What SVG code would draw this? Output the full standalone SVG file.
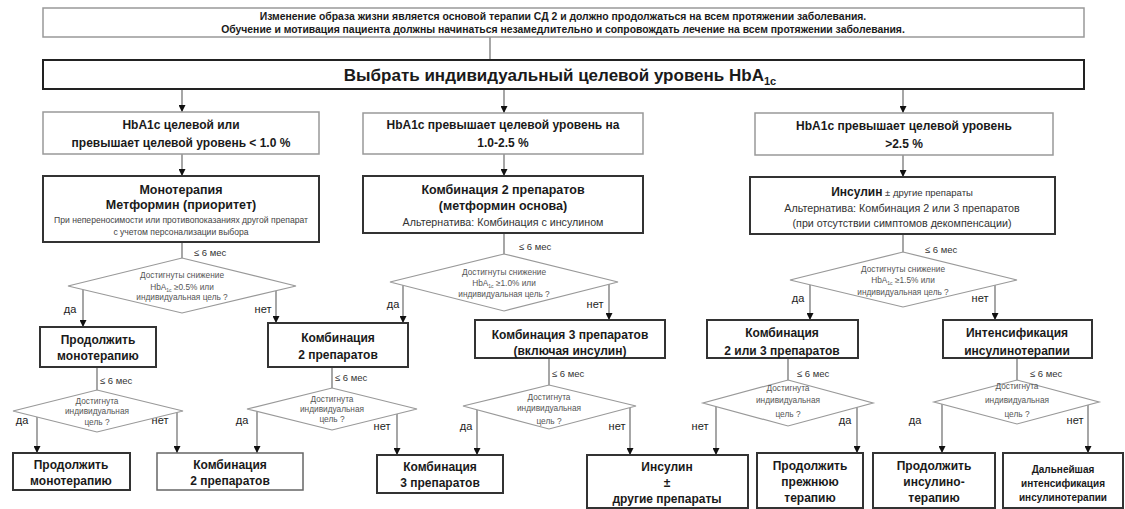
<svg xmlns="http://www.w3.org/2000/svg" width="1125" height="509" viewBox="0 0 1125 509">
<defs>
<marker id="ah" viewBox="0 0 10 10" refX="10" refY="5" markerWidth="7" markerHeight="7" markerUnits="userSpaceOnUse" orient="auto">
<path d="M0,0 L10,5 L0,10 Z" fill="#111"/>
</marker>
<style>
text{font-family:"Liberation Sans",Arial,sans-serif;fill:#1a1a1a;text-anchor:middle}
.b{font-weight:bold}
.top{font-size:10.4px;font-weight:bold}
.title{font-size:17px;font-weight:bold}
.h{font-size:12px;font-weight:bold}
.hm{font-size:12.5px;font-weight:bold}
.t{font-size:12px;font-weight:bold}
.sm{font-size:8.6px;fill:#444}
.alt{font-size:10.7px;fill:#333}
.d{font-size:8.3px;fill:#555}
.m{font-size:9.5px;fill:#333;text-anchor:start}
.yn{font-size:11px;fill:#222}
.lbox{fill:#fff;stroke:#999;stroke-width:1.5}
.dbox{fill:#fff;stroke:#333;stroke-width:2}
.gbox{fill:#fff;stroke:#666;stroke-width:1.5}
.dia{fill:#fff;stroke:#999;stroke-width:1.2}
.c{stroke:#777;stroke-width:1.3;fill:none}
.a{marker-end:url(#ah)}
</style>
</defs>
<rect width="1125" height="509" fill="#fff"/>

<g id="connectors">
<line class="c" x1="490" y1="37" x2="490" y2="60"/>
<line class="c a" x1="182" y1="89" x2="182" y2="112"/>
<line class="c a" x1="504" y1="89" x2="504" y2="113"/>
<line class="c a" x1="903" y1="89" x2="903" y2="113"/>
<line class="c a" x1="182" y1="154" x2="182" y2="176"/>
<line class="c a" x1="504" y1="154" x2="504" y2="176"/>
<line class="c a" x1="903" y1="155" x2="903" y2="177"/>
<line class="c" x1="182" y1="242" x2="182" y2="258"/>
<line class="c" x1="504" y1="233" x2="504" y2="254"/>
<line class="c" x1="903" y1="234" x2="903" y2="252"/>
<line class="c a" x1="83" y1="290" x2="83" y2="327"/>
<line class="c a" x1="276" y1="291" x2="276" y2="323"/>
<line class="c a" x1="403" y1="285" x2="403" y2="323"/>
<line class="c a" x1="609" y1="284" x2="609" y2="320"/>
<line class="c a" x1="810" y1="285" x2="810" y2="320"/>
<line class="c a" x1="995" y1="285" x2="995" y2="320"/>
<line class="c" x1="97" y1="367" x2="97" y2="390"/>
<line class="c" x1="332" y1="367" x2="332" y2="388"/>
<line class="c" x1="549" y1="358" x2="549" y2="385"/>
<line class="c" x1="788" y1="358" x2="788" y2="380"/>
<line class="c" x1="1017" y1="358" x2="1017" y2="380"/>
<line class="c a" x1="37" y1="417" x2="37" y2="453"/>
<line class="c a" x1="177" y1="412" x2="177" y2="453"/>
<line class="c a" x1="257" y1="411" x2="257" y2="453"/>
<line class="c a" x1="397" y1="414" x2="397" y2="455"/>
<line class="c a" x1="477" y1="410" x2="477" y2="455"/>
<line class="c a" x1="630" y1="408" x2="630" y2="455"/>
<line class="c a" x1="716" y1="406" x2="716" y2="455"/>
<line class="c a" x1="857" y1="407" x2="857" y2="453"/>
<line class="c a" x1="942" y1="404" x2="942" y2="453"/>
<line class="c a" x1="1088" y1="405" x2="1088" y2="453"/>
<text class="m" x="194" y="256">≤ 6 мес</text>
<text class="m" x="519" y="250">≤ 6 мес</text>
<text class="m" x="925" y="253">≤ 6 мес</text>
<text class="m" x="100" y="384">≤ 6 мес</text>
<text class="m" x="335" y="381">≤ 6 мес</text>
<text class="m" x="552" y="377">≤ 6 мес</text>
<text class="m" x="797" y="377">≤ 6 мес</text>
<text class="m" x="1030" y="377">≤ 6 мес</text>
<text class="yn" x="70" y="313">да</text>
<text class="yn" x="263" y="313">нет</text>
<text class="yn" x="393" y="308">да</text>
<text class="yn" x="595" y="308">нет</text>
<text class="yn" x="798" y="302">да</text>
<text class="yn" x="980" y="302">нет</text>
<text class="yn" x="22" y="424">да</text>
<text class="yn" x="160" y="424">нет</text>
<text class="yn" x="242" y="424">да</text>
<text class="yn" x="382" y="430">нет</text>
<text class="yn" x="466" y="430">да</text>
<text class="yn" x="617" y="430">нет</text>
<text class="yn" x="700" y="430">нет</text>
<text class="yn" x="845" y="424">да</text>
<text class="yn" x="915" y="424">да</text>
<text class="yn" x="1075" y="424">нет</text>
</g>

<g id="intro">
<rect class="lbox" x="43" y="8" width="1041" height="29"/>
<text class="top" x="563" y="20">Изменение образа жизни является основой терапии СД 2 и должно продолжаться на всем протяжении заболевания.</text>
<text class="top" x="563" y="33">Обучение и мотивация пациента должны начинаться незамедлительно и сопровождать лечение на всем протяжении заболевания.</text>
</g>

<g id="target">
<rect x="43" y="60" width="1041" height="29" fill="#fff" stroke="#222" stroke-width="2"/>
<text class="title" x="560" y="81">Выбрать индивидуальный целевой уровень HbA<tspan font-size="11" dy="4">1c</tspan></text>
</g>

<g id="hba-low">
<rect class="lbox" x="43" y="112" width="276" height="42"/>
<text class="h" x="181" y="129">HbA1c целевой или</text>
<text class="h" x="181" y="147">превышает целевой уровень &lt; 1.0 %</text>
</g>
<g id="hba-mid">
<rect class="lbox" x="363" y="113" width="280" height="41"/>
<text class="h" x="503" y="129">HbA1c превышает целевой уровень на</text>
<text class="h" x="503" y="147">1.0-2.5 %</text>
</g>
<g id="hba-high">
<rect class="lbox" x="755" y="113" width="298" height="42"/>
<text class="h" x="904" y="130">HbA1c превышает целевой уровень</text>
<text class="h" x="904" y="148">&gt;2.5 %</text>
</g>

<g id="mono">
<rect class="dbox" x="43" y="176" width="276" height="66"/>
<text class="hm" x="181" y="194">Монотерапия</text>
<text class="hm" x="181" y="209">Метформин (приоритет)</text>
<text class="sm" x="181" y="223">При непереносимости или противопоказаниях другой препарат</text>
<text class="sm" x="181" y="235">с учетом персонализации выбора</text>
</g>
<g id="combo2">
<rect class="dbox" x="363" y="176" width="280" height="57"/>
<text class="hm" x="503" y="194">Комбинация  2 препаратов</text>
<text class="hm" x="503" y="210">(метформин основа)</text>
<text class="alt" x="503" y="226">Альтернатива: Комбинация с инсулином</text>
</g>
<g id="insulin">
<rect class="dbox" x="750" y="177" width="305" height="57"/>
<text x="902" y="196"><tspan class="b" font-size="12">Инсулин</tspan><tspan font-size="9.5" fill="#333"> ± другие препараты</tspan></text>
<text class="alt" x="902" y="212">Альтернатива: Комбинация 2 или 3 препаратов</text>
<text class="alt" x="902" y="227">(при отсутствии симптомов декомпенсации)</text>
</g>

<g id="q1">
<polygon class="dia" points="182,258 296,286 182,313 68,286"/>
<text class="d" x="182" y="278">Достигнуты снижение</text>
<text class="d" x="182" y="290">HbA<tspan font-size="5" dy="2">1c</tspan><tspan dy="-2">  ≥0.5%  или</tspan></text>
<text class="d" x="182" y="300">индивидуальная цель ?</text>
</g>
<g id="q2">
<polygon class="dia" points="504,254 618,282 504,311 390,282"/>
<text class="d" x="504" y="275">Достигнуты снижение</text>
<text class="d" x="504" y="286">HbA<tspan font-size="5" dy="2">1c</tspan><tspan dy="-2">  ≥1.0%  или</tspan></text>
<text class="d" x="504" y="297">индивидуальная цель ?</text>
</g>
<g id="q3">
<polygon class="dia" points="903,252 1017,280 903,307 790,280"/>
<text class="d" x="903" y="272">Достигнуты снижение</text>
<text class="d" x="903" y="283">HbA<tspan font-size="5" dy="2">1c</tspan><tspan dy="-2">  ≥1.5%  или</tspan></text>
<text class="d" x="903" y="295">индивидуальная цель ?</text>
</g>

<g id="cont-mono">
<rect class="dbox" x="40" y="327" width="116" height="40"/>
<text class="t" x="98" y="344">Продолжить</text>
<text class="t" x="98" y="360">монотерапию</text>
</g>
<g id="combo2-b">
<rect class="dbox" x="268" y="323" width="140" height="44"/>
<text class="t" x="338" y="342">Комбинация</text>
<text class="t" x="338" y="359">2 препаратов</text>
</g>
<g id="combo3">
<rect class="dbox" x="475" y="320" width="190" height="38"/>
<text class="t" x="570" y="339">Комбинация 3 препаратов</text>
<text class="t" x="570" y="355">(включая инсулин)</text>
</g>
<g id="combo23">
<rect class="dbox" x="707" y="320" width="151" height="38"/>
<text class="t" x="782" y="337">Комбинация</text>
<text class="t" x="782" y="355">2 или 3 препаратов</text>
</g>
<g id="intens">
<rect class="dbox" x="943" y="320" width="149" height="38"/>
<text class="t" x="1017" y="337">Интенсификация</text>
<text class="t" x="1017" y="355">инсулинотерапии</text>
</g>

<g id="q4">
<polygon class="dia" points="97,390 183,411 97,432 13,411"/>
<text class="d" x="97" y="404">Достигнута</text>
<text class="d" x="97" y="414">индивидуальная</text>
<text class="d" x="97" y="425">цель ?</text>
</g>
<g id="q5">
<polygon class="dia" points="332,388 417,409 332,430 247,409"/>
<text class="d" x="332" y="402">Достигнута</text>
<text class="d" x="332" y="412">индивидуальная</text>
<text class="d" x="332" y="422">цель ?</text>
</g>
<g id="q6">
<polygon class="dia" points="549,385 636,406 549,429 463,406"/>
<text class="d" x="549" y="400">Достигнута</text>
<text class="d" x="549" y="411">индивидуальная</text>
<text class="d" x="549" y="424">цель ?</text>
</g>
<g id="q7">
<polygon class="dia" points="788,380 873,403 788,426 703,403"/>
<text class="d" x="788" y="391">Достигнута</text>
<text class="d" x="788" y="403">индивидуальная</text>
<text class="d" x="788" y="417">цель ?</text>
</g>
<g id="q8">
<polygon class="dia" points="1017,380 1099,402 1017,424 934,402"/>
<text class="d" x="1017" y="389">Достигнута</text>
<text class="d" x="1017" y="403">индивидуальная</text>
<text class="d" x="1017" y="417">цель ?</text>
</g>

<g id="end-mono">
<rect class="dbox" x="13" y="453" width="117" height="37"/>
<text class="t" x="71" y="469">Продолжить</text>
<text class="t" x="71" y="485">монотерапию</text>
</g>
<g id="end-combo2">
<rect class="gbox" x="157" y="453" width="146" height="37"/>
<text class="t" x="230" y="469">Комбинация</text>
<text class="t" x="230" y="485">2 препаратов</text>
</g>
<g id="end-combo3">
<rect class="dbox" x="377" y="455" width="126" height="38"/>
<text class="t" x="440" y="471">Комбинация</text>
<text class="t" x="440" y="487">3 препаратов</text>
</g>
<g id="end-insulin">
<rect class="dbox" x="587" y="455" width="161" height="53"/>
<text class="t" x="667" y="471">Инсулин</text>
<text class="t" x="667" y="487">±</text>
<text class="t" x="667" y="503">другие  препараты</text>
</g>
<g id="end-prev">
<rect class="dbox" x="757" y="453" width="106" height="55"/>
<text class="t" x="810" y="470">Продолжить</text>
<text class="t" x="810" y="486">прежнюю</text>
<text class="t" x="810" y="502">терапию</text>
</g>
<g id="end-ins">
<rect class="dbox" x="873" y="453" width="122" height="55"/>
<text class="t" x="934" y="470">Продолжить</text>
<text class="t" x="934" y="486">инсулино-</text>
<text class="t" x="934" y="502">терапию</text>
</g>
<g id="end-intens">
<rect class="dbox" x="1003" y="453" width="120" height="55"/>
<text class="b" font-size="10" x="1063" y="473">Дальнейшая</text>
<text class="b" font-size="10" x="1063" y="487">интенсификация</text>
<text class="b" font-size="10" x="1063" y="501">инсулинотерапии</text>
</g>
</svg>
